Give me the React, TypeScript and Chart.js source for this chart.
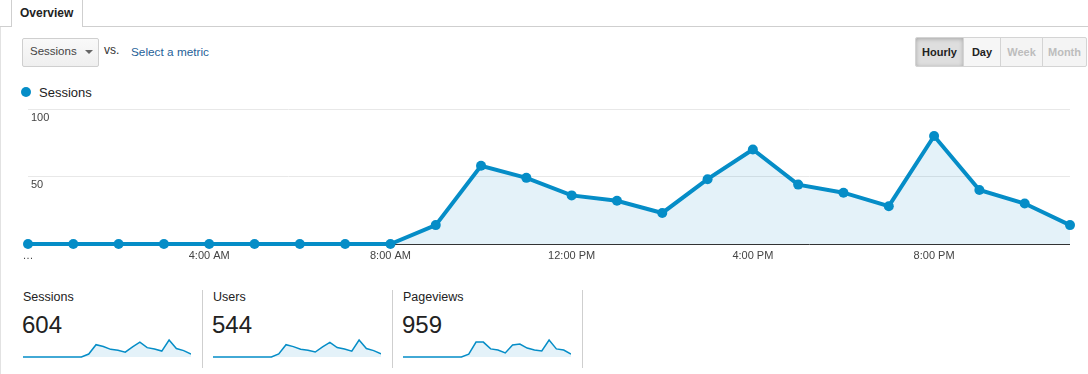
import React, { useEffect, useRef } from "react";
import { Chart, registerables } from "chart.js";

Chart.register(...registerables);

// ---- data ----
const hourCategories = [
  "12:00 AM", "1:00 AM", "2:00 AM", "3:00 AM", "4:00 AM", "5:00 AM",
  "6:00 AM", "7:00 AM", "8:00 AM", "9:00 AM", "10:00 AM", "11:00 AM",
  "12:00 PM", "1:00 PM", "2:00 PM", "3:00 PM", "4:00 PM", "5:00 PM",
  "6:00 PM", "7:00 PM", "8:00 PM", "9:00 PM", "10:00 PM", "11:00 PM",
];
const xTickLabels = [
  "…", "", "", "", "4:00 AM", "", "", "", "8:00 AM", "", "", "",
  "12:00 PM", "", "", "", "4:00 PM", "", "", "", "8:00 PM", "", "", "",
];
const sessionsSeries = [0, 0, 0, 0, 0, 0, 0, 0, 0, 14, 58, 49, 36, 32, 23, 48, 70, 44, 38, 28, 80, 40, 30, 14];
const usersSeries = [0, 0, 0, 0, 0, 0, 0, 0, 0, 13, 52, 44, 33, 29, 21, 43, 62, 40, 34, 25, 72, 36, 27, 13];
const pageviewsSeries = [0, 0, 0, 0, 0, 0, 0, 0, 0, 21, 107, 107, 58, 50, 29, 86, 93, 64, 50, 43, 122, 58, 50, 21];
const yTickValues = [50, 100];
const yMax = 100;
const scorecardTitles = ["Sessions", "Users", "Pageviews"];
const scorecardTotals = ["604", "544", "959"];

const BLUE = "#058dc7";
const FILL = "rgba(5,141,199,0.11)";
const FONT = "Arial, 'Liberation Sans', sans-serif";

function MainChart() {
  const ref = useRef<HTMLCanvasElement>(null);
  useEffect(() => {
    const yLabelPlugin = {
      id: "yLabels",
      afterDraw(chart: any) {
        const ctx = chart.ctx;
        const ys = chart.scales.y;
        ctx.save();
        ctx.font = `11px ${FONT}`;
        ctx.fillStyle = "#444";
        ctx.textAlign = "left";
        ctx.textBaseline = "middle";
        yTickValues.forEach((v) => {
          ctx.fillText(String(v), chart.chartArea.left + 3, ys.getPixelForValue(v) + 8.5);
        });
        ctx.restore();
      },
    };
    const chart = new Chart(ref.current!, {
      type: "line",
      data: {
        labels: hourCategories,
        datasets: [
          {
            label: "Sessions",
            data: sessionsSeries,
            borderColor: BLUE,
            backgroundColor: FILL,
            fill: "origin",
            borderWidth: 4,
            pointRadius: 5,
            pointBorderWidth: 0,
            pointBackgroundColor: BLUE,
            tension: 0,
            clip: false,
          },
        ],
      },
      options: {
        animation: false,
        responsive: false,
        maintainAspectRatio: false,
        layout: { padding: { left: 28, right: 18, top: 9, bottom: 0 } },
        plugins: { legend: { display: false }, tooltip: { enabled: false } },
        scales: {
          x: {
            grid: { display: false, drawTicks: false },
            border: { display: false },
            ticks: {
              autoSkip: false,
              maxRotation: 0,
              padding: 5,
              color: "#444",
              font: { size: 11, family: FONT },
              callback: (_v: any, i: number) => xTickLabels[i],
            },
            afterFit: (s: any) => {
              s.height = 26;
            },
          },
          y: {
            min: 0,
            max: yMax,
            ticks: { display: false, stepSize: 50 },
            border: { display: false },
            grid: {
              drawTicks: false,
              color: (c: any) => (c.tick && c.tick.value === 0 ? "#333" : "#e8e8e8"),
              lineWidth: 1,
            },
            afterFit: (s: any) => {
              s.width = 0;
            },
          },
        },
      },
      plugins: [yLabelPlugin],
    });
    return () => chart.destroy();
  }, []);
  return (
    <canvas
      ref={ref}
      width={1088}
      height={170}
      style={{ position: "absolute", left: 0, top: 100, width: 1088, height: 170 }}
    />
  );
}

function Sparkline({ data, left }: { data: number[]; left: number }) {
  const ref = useRef<HTMLCanvasElement>(null);
  useEffect(() => {
    const chart = new Chart(ref.current!, {
      type: "line",
      data: {
        labels: hourCategories,
        datasets: [
          {
            data,
            borderColor: BLUE,
            backgroundColor: FILL,
            fill: "origin",
            borderWidth: 1.5,
            pointRadius: 0,
            tension: 0,
            clip: false,
          },
        ],
      },
      options: {
        animation: false,
        responsive: false,
        maintainAspectRatio: false,
        layout: { padding: { left: 0, right: 0, top: 2, bottom: 2 } },
        plugins: { legend: { display: false }, tooltip: { enabled: false } },
        scales: {
          x: { display: false },
          y: { display: false, min: 0, max: Math.max(...data) },
        },
      },
    });
    return () => chart.destroy();
  }, []);
  return (
    <canvas
      ref={ref}
      width={168}
      height={21}
      style={{ position: "absolute", left, top: 338, width: 168, height: 21 }}
    />
  );
}

const btnBase: React.CSSProperties = {
  position: "absolute",
  top: 37,
  height: 30,
  boxSizing: "border-box",
  border: "1px solid #d4d4d4",
  fontFamily: FONT,
  fontSize: 11,
  fontWeight: "bold",
  display: "flex",
  alignItems: "center",
  justifyContent: "center",
};

export default function App() {
  const sparkData = [sessionsSeries, usersSeries, pageviewsSeries];
  const cardLefts = [12, 202, 392];
  return (
    <div
      style={{
        position: "absolute",
        left: 0,
        top: 0,
        width: 1088,
        height: 374,
        background: "#fff",
        overflow: "hidden",
        fontFamily: FONT,
      }}
    >
      {/* tab strip */}
      <div style={{ position: "absolute", left: 0, top: 26, width: 1088, height: 1, background: "#cfcfcf" }} />
      <div
        style={{
          position: "absolute",
          left: 11,
          top: -1,
          width: 72,
          height: 28,
          boxSizing: "border-box",
          border: "1px solid #cfcfcf",
          borderBottom: "none",
          background: "#fff",
        }}
      />
      <div style={{ position: "absolute", left: 20, top: 6, fontSize: 12, fontWeight: "bold", color: "#222" }}>Overview</div>
      <div style={{ position: "absolute", left: 0, top: 27, width: 1, height: 347, background: "#e2e2e2" }} />

      {/* metric selector */}
      <div
        style={{
          position: "absolute",
          left: 22,
          top: 38,
          width: 77,
          height: 29,
          boxSizing: "border-box",
          border: "1px solid #cfcfcf",
          borderRadius: 2,
          background: "linear-gradient(#f9f9f9, #efefef)",
        }}
      />
      <div style={{ position: "absolute", left: 30, top: 45, fontSize: 11.5, color: "#444" }}>Sessions</div>
      <div
        style={{
          position: "absolute",
          left: 85,
          top: 50,
          width: 0,
          height: 0,
          borderLeft: "4px solid transparent",
          borderRight: "4px solid transparent",
          borderTop: "4px solid #666",
        }}
      />
      <div style={{ position: "absolute", left: 104, top: 43, fontSize: 12, color: "#333" }}>vs.</div>
      <div style={{ position: "absolute", left: 131, top: 45, fontSize: 11.8, color: "#1f5f98" }}>Select a metric</div>

      {/* granularity buttons */}
      <div
        style={{
          ...btnBase,
          left: 915,
          width: 49,
          background: "#dedede",
          boxShadow: "inset 0 1px 4px rgba(0,0,0,0.25)",
          color: "#222",
          borderRadius: "2px 0 0 2px",
        }}
      >
        Hourly
      </div>
      <div style={{ ...btnBase, left: 963, width: 38, background: "#f6f6f6", color: "#222" }}>Day</div>
      <div style={{ ...btnBase, left: 1000, width: 43, background: "#f4f4f4", color: "#bdbdbd", fontWeight: "bold" }}>Week</div>
      <div style={{ ...btnBase, left: 1042, width: 45, background: "#f4f4f4", color: "#bdbdbd", borderRadius: "0 2px 2px 0" }}>Month</div>

      {/* legend */}
      <div style={{ position: "absolute", left: 21, top: 87, width: 10, height: 10, borderRadius: 5, background: BLUE }} />
      <div style={{ position: "absolute", left: 39, top: 85, fontSize: 13, color: "#222" }}>Sessions</div>

      <MainChart />

      {/* scorecards */}
      {scorecardTitles.map((t, i) => (
        <React.Fragment key={t}>
          <div style={{ position: "absolute", left: cardLefts[i] + 11, top: 290, fontSize: 12.5, color: "#222" }}>{t}</div>
          <div style={{ position: "absolute", left: cardLefts[i] + 10, top: 311, fontSize: 24, color: "#222" }}>
            {scorecardTotals[i]}
          </div>
          <Sparkline data={sparkData[i]} left={cardLefts[i] + 11} />
          <div style={{ position: "absolute", left: cardLefts[i] + 190, top: 290, width: 1, height: 78, background: "#cfcfcf" }} />
        </React.Fragment>
      ))}
    </div>
  );
}
